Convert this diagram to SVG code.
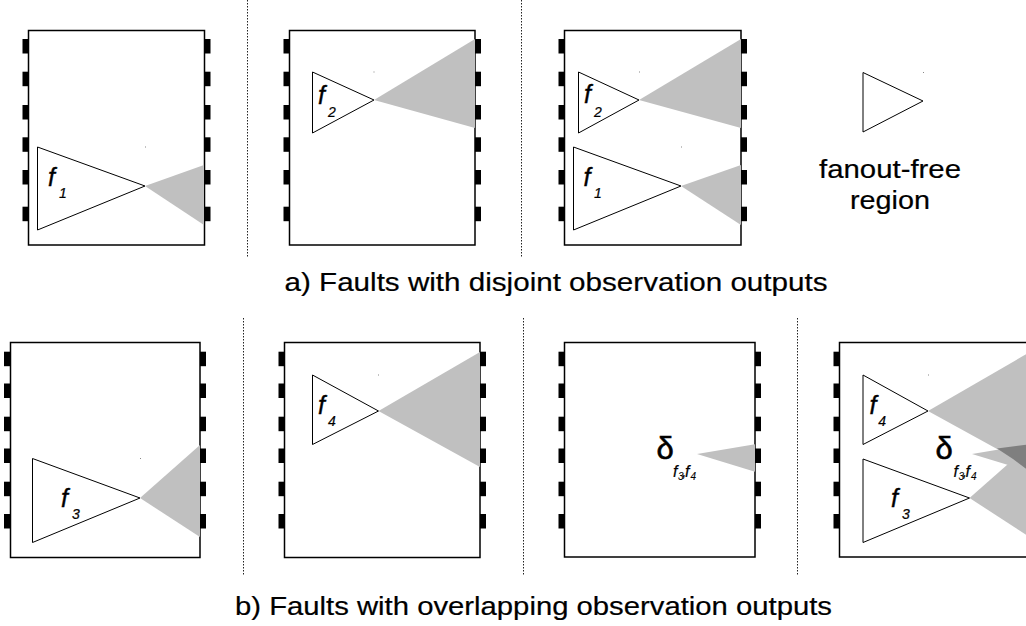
<svg xmlns="http://www.w3.org/2000/svg" width="1026" height="626" viewBox="0 0 1026 626">
<style>
.box{fill:#fff;stroke:#000;stroke-width:1.5}
.pin{fill:#000}
.ffr{fill:#fff;stroke:#000;stroke-width:1}
.fan{fill:#c0c0c0;stroke:none}
.dark{fill:#7f7f7f;stroke:none}
.sep{stroke:#222;stroke-width:1;stroke-dasharray:1.5 1.5;fill:none}
text{font-family:"Liberation Sans",Arial,sans-serif;fill:#000}
.f{font-style:italic;font-size:25px;stroke:#000;stroke-width:0.4}
.s{font-style:italic;font-size:14px;stroke:#000;stroke-width:0.2}
.d{font-size:31px;stroke:#000;stroke-width:0.6}
.sf{font-style:italic;font-size:16px;stroke:#000;stroke-width:0.2}
.ss{font-style:italic;font-size:10px;stroke:#000;stroke-width:0.1}
.cap{font-size:26px;stroke:#000;stroke-width:0.2}
.dot{fill:#888}
</style>
<defs>
<g id="pinsA">
<rect class="pin" x="0" y="39" width="6" height="14.5"/>
<rect class="pin" x="0" y="71.7" width="6" height="14.5"/>
<rect class="pin" x="0" y="105" width="6" height="14.5"/>
<rect class="pin" x="0" y="137.3" width="6" height="14.5"/>
<rect class="pin" x="0" y="170" width="6" height="14.5"/>
<rect class="pin" x="0" y="206.7" width="6" height="14.5"/>
</g>
<g id="pinsB">
<rect class="pin" x="0" y="351.7" width="6" height="14.5"/>
<rect class="pin" x="0" y="383.5" width="6" height="14.5"/>
<rect class="pin" x="0" y="416.7" width="6" height="14.5"/>
<rect class="pin" x="0" y="448.5" width="6" height="14.5"/>
<rect class="pin" x="0" y="481.7" width="6" height="14.5"/>
<rect class="pin" x="0" y="514" width="6" height="14.5"/>
</g>
</defs>

<g id="separators">
<line class="sep" x1="247.5" y1="0" x2="247.5" y2="258"/>
<line class="sep" x1="521.5" y1="0" x2="521.5" y2="258"/>
<line class="sep" x1="243.5" y1="318" x2="243.5" y2="576"/>
<line class="sep" x1="523.5" y1="318" x2="523.5" y2="576"/>
<line class="sep" x1="797.5" y1="318" x2="797.5" y2="576"/>
</g>

<g id="box-a1">
<rect class="box" x="28.5" y="30.5" width="176" height="214.5"/>
<use href="#pinsA" x="22.5"/>
<use href="#pinsA" x="204.5"/>
<polygon class="fan" points="145,186 204,165 204,225"/>
<polygon class="ffr" points="37.5,147 37.5,230 145,186"/>
<rect class="dot" x="145" y="146.5" width="1" height="1"/>
<text class="f" x="48" y="186">f</text><text class="s" x="59" y="198">1</text>
</g>

<g id="box-a2">
<rect class="box" x="289.5" y="30.5" width="185.5" height="214.5"/>
<use href="#pinsA" x="283.5"/>
<use href="#pinsA" x="475"/>
<polygon class="fan" points="374,100 475,39 475,128"/>
<polygon class="ffr" points="312.5,72 312.5,133 374,100"/>
<rect class="dot" x="373.5" y="71.5" width="1" height="1"/>
<text class="f" x="318" y="104">f</text><text class="s" x="328" y="117">2</text>
</g>

<g id="box-a3">
<rect class="box" x="564.5" y="30.5" width="176.5" height="214.5"/>
<use href="#pinsA" x="558.5"/>
<use href="#pinsA" x="741"/>
<polygon class="fan" points="639,100 741,39 741,128"/>
<polygon class="fan" points="681,186 741,165 741,225"/>
<polygon class="ffr" points="578.5,72 578.5,133 639,100"/>
<polygon class="ffr" points="573.5,147 573.5,230 681,186"/>
<rect class="dot" x="639" y="71.5" width="1" height="1"/>
<rect class="dot" x="681" y="146.5" width="1" height="1"/>
<text class="f" x="584" y="103">f</text><text class="s" x="594" y="117">2</text>
<text class="f" x="583.5" y="186">f</text><text class="s" x="594" y="198">1</text>
</g>

<g id="legend">
<polygon class="ffr" points="863,72.5 863,132 923,101"/>
<rect class="dot" x="923" y="72" width="1" height="1"/>
<text class="cap" x="890" y="178.3" text-anchor="middle" textLength="142" lengthAdjust="spacingAndGlyphs">fanout-free</text>
<text class="cap" x="890" y="209.3" text-anchor="middle" textLength="80" lengthAdjust="spacingAndGlyphs">region</text>
</g>

<text id="caption-a" class="cap" x="284.5" y="291" textLength="543" lengthAdjust="spacingAndGlyphs">a) Faults with disjoint observation outputs</text>

<g id="box-b1">
<rect class="box" x="10.5" y="342.5" width="189.5" height="215"/>
<use href="#pinsB" x="4"/>
<use href="#pinsB" x="200"/>
<polygon class="fan" points="140,498 200,445 200,537"/>
<polygon class="ffr" points="32.5,458.5 32.5,542.5 140,498"/>
<rect class="dot" x="140" y="458" width="1" height="1"/>
<text class="f" x="61" y="507">f</text><text class="s" x="72" y="519">3</text>
</g>

<g id="box-b2">
<rect class="box" x="284.5" y="342.5" width="195.5" height="215"/>
<use href="#pinsB" x="278.5"/>
<use href="#pinsB" x="480"/>
<polygon class="fan" points="378.5,411 480,352 480,467"/>
<polygon class="ffr" points="312.5,375 312.5,444.5 378.5,411"/>
<rect class="dot" x="378" y="374.5" width="1" height="1"/>
<text class="f" x="318" y="414">f</text><text class="s" x="328" y="426">4</text>
</g>

<g id="box-b3">
<rect class="box" x="564.5" y="342.5" width="190.5" height="214.5"/>
<use href="#pinsB" x="558.5"/>
<use href="#pinsB" x="755"/>
<polygon class="fan" points="697,454 755,444.3 755,471.7"/>
<text class="d" x="656.5" y="458.5">δ</text>
<text class="sf" x="673" y="477">f</text><text class="ss" x="678" y="480">3</text><text class="sf" x="682" y="477">,</text>
<text class="sf" x="685" y="477">f</text><text class="ss" x="690.5" y="480">4</text>
</g>

<g id="box-b4">
<rect class="box" x="839.5" y="342.5" width="196" height="214.5"/>
<use href="#pinsB" x="833.5"/>
<polygon class="fan" points="928,411 1030,352 1030,467"/>
<polygon class="fan" points="969.5,498 1030,444.6 1030,537.3"/>
<polygon class="fan" points="972,454 1030,444.3 1030,471.7"/>
<polygon class="dark" points="997,448.5 1030,444.3 1030,471.7 1013,459"/>
<polygon class="ffr" points="863,375 863,444.5 928,411"/>
<polygon class="ffr" points="863,459 863,542.5 969.5,498"/>
<rect class="dot" x="928" y="374.5" width="1" height="1"/>
<text class="f" x="869.5" y="414">f</text><text class="s" x="878.3" y="426">4</text>
<text class="f" x="891" y="507">f</text><text class="s" x="902" y="519">3</text>
<text class="d" x="935.5" y="458.5">δ</text>
<text class="sf" x="953.5" y="477">f</text><text class="ss" x="958.5" y="480">3</text><text class="sf" x="962.5" y="477">,</text>
<text class="sf" x="965.5" y="477">f</text><text class="ss" x="971" y="480">4</text>
</g>

<text id="caption-b" class="cap" x="235" y="615" textLength="597" lengthAdjust="spacingAndGlyphs">b) Faults with overlapping observation outputs</text>
</svg>
